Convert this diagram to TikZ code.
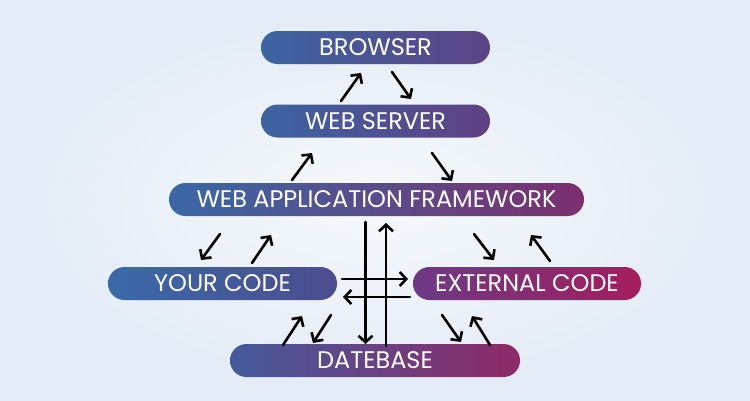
\documentclass[tikz,border=0pt]{standalone}
\usepackage{fontspec}
\setmainfont{Poppins}
\usetikzlibrary{arrows.meta,calc}
\definecolor{bgin}{HTML}{F6F9FC}
\definecolor{bgout}{HTML}{E2EBF6}
\tikzset{
  box/.style={rounded corners=16.5pt, minimum height=33pt, text=white,
    font=\fontsize{24}{24}\selectfont, inner sep=0pt},
  arr/.style={line width=2.6pt, -{Straight Barb[length=6.5pt,width=14pt,line width=2.6pt]}, line cap=round},
}
\begin{document}
\begin{tikzpicture}[x=1pt,y=-1pt]
\shade[inner color=bgin, outer color=bgout] (0,0) rectangle (750,400);
\useasboundingbox (0,0) rectangle (750,400);
% boxes
\node[box, minimum width=229pt, left color={rgb,255:red,60;green,100;blue,162}, right color={rgb,255:red,92;green,68;blue,134}] (br) at (375.5,47.5) {BROWSER};
\node[box, minimum width=229pt, left color={rgb,255:red,60;green,100;blue,162}, right color={rgb,255:red,96;green,64;blue,132}] (ws) at (375.5,121) {WEB SERVER};
\node[box, minimum width=415pt, left color={rgb,255:red,58;green,104;blue,166}, right color={rgb,255:red,124;green,47;blue,110}] (waf) at (376.5,199.5) {WEB APPLICATION FRAMEWORK};
\node[box, minimum width=229pt, left color={rgb,255:red,58;green,106;blue,168}, right color={rgb,255:red,76;green,76;blue,142}] (yc) at (222.5,283.5) {YOUR CODE};
\node[box, minimum width=228pt, left color={rgb,255:red,108;green,58;blue,134}, right color={rgb,255:red,165;green,29;blue,92}] (ec) at (527,283.5) {EXTERNAL CODE};
\node[box, minimum width=290pt, left color={rgb,255:red,67;green,90;blue,156}, right color={rgb,255:red,142;green,42;blue,102}] (db) at (375,360.5) {DATEBASE};
% arrow end points
\coordinate (a1s) at (341,101); \coordinate (a1e) at (361,73);
\coordinate (a2s) at (392,72); \coordinate (a2e) at (411,99);
\coordinate (a3s) at (292,180); \coordinate (a3e) at (312,153);
\coordinate (a4s) at (432,153); \coordinate (a4e) at (452,181);
\coordinate (a5s) at (220,234); \coordinate (a5e) at (201,260);
\coordinate (a6s) at (252,263); \coordinate (a6e) at (271,235);
\coordinate (a7s) at (474,234); \coordinate (a7e) at (494,260);
\coordinate (a8s) at (550,261); \coordinate (a8e) at (531,235);
\coordinate (v1s) at (365.5,222); \coordinate (v1e) at (365.5,344);
\coordinate (v2s) at (386,346); \coordinate (v2e) at (386,223);
\coordinate (h1s) at (342,279); \coordinate (h1e) at (408,279);
\coordinate (h2s) at (410,297); \coordinate (h2e) at (343,297);
\coordinate (b1s) at (283,345); \coordinate (b1e) at (302,316);
\coordinate (b2s) at (331,315); \coordinate (b2e) at (313,343);
\coordinate (b3s) at (442,315); \coordinate (b3e) at (461,342);
\coordinate (b4s) at (490,345); \coordinate (b4e) at (472,316);
\foreach \n in {a1,a2,a3,a4,a5,a6,a7,a8,v1,v2,h1,h2,b1,b2,b3,b4}
  \draw[arr] (\n s) -- (\n e);
\end{tikzpicture}
\end{document}
